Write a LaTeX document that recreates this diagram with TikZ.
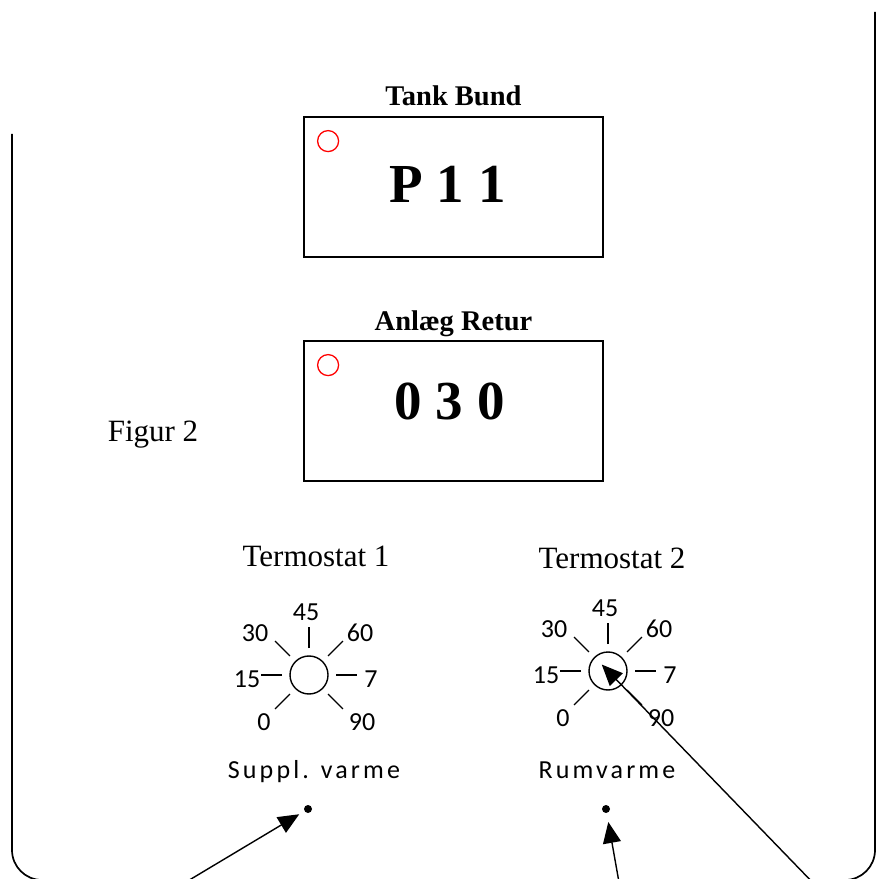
\documentclass[tikz,border=0pt]{standalone}
\usepackage{fontspec}
\setmainfont{Liberation Serif}
\newfontfamily\dialfont{Carlito}
\newfontfamily\spacedfont[LetterSpace=12]{Carlito}
\usetikzlibrary{positioning,arrows.meta}

\begin{document}
\begin{tikzpicture}[x=1pt,y=1pt,
  display/.style={draw,line width=1.8pt,minimum width=299pt,minimum height=140pt,inner sep=0pt},
  reading/.style={inner sep=0pt,font=\fontsize{55}{60}\selectfont\bfseries},
  heading/.style={inner sep=0pt,anchor=base,font=\fontsize{28.5}{32}\selectfont\bfseries},
  led/.style={draw=red,line width=1.3pt,circle,minimum size=21pt,inner sep=0pt},
  knob/.style={draw,circle,line width=1.4pt,minimum size=38pt,inner sep=0pt},
  dialnum/.style={inner sep=0pt,font=\dialfont\fontsize{26}{30}\selectfont},
  plain/.style={inner sep=0pt,font=\fontsize{31}{36}\selectfont},
  sub/.style={inner sep=0pt,font=\spacedfont\fontsize{26}{30}\selectfont},
  dot/.style={circle,fill,inner sep=0pt,minimum size=8pt},
  pointer/.style={line width=1.4pt,-{Triangle[length=21pt,width=18pt]}}]
  \useasboundingbox (0,0) rectangle (882,878);
  \clip (0,0) rectangle (882,878);
  \draw[line width=1.7pt,rounded corners=30pt] (12,744) -- (12,-2) -- (875,-2) -- (875,866);

  \node[display] (tank) at (453.5,691) {};
  \node[reading] at ([shift={(-6,3)}]tank.center) {P 1 1};
  \node[heading] at ([yshift=11pt]tank.north) {Tank Bund};
  \node[led] at ([shift={(25,-25)}]tank.north west) {};

  \node[display] (anlaeg) at (453.5,467) {};
  \node[reading] at ([shift={(-4,10)}]anlaeg.center) {0 3 0};
  \node[heading] at ([yshift=10pt]anlaeg.north) {Anlæg Retur};
  \node[led] at ([shift={(25,-25)}]anlaeg.north west) {};

  \node[plain] at (153,443) {Figur 2};
  \node[plain] at (316,322) {Termostat 1};
  \node[plain] at (612,320) {Termostat 2};

  \node[knob] (dialA) at (309,203) {};
  \node[knob] (dialB) at (608,207) {};
  \foreach \d in {dialA,dialB} {
    \foreach \a in {0,45,90,135,180,225,315}
      \draw[line width=1.2pt] (\d.center) ++(\a:27) -- ++(\a:21);
    \foreach \n/\dx/\dy in {45/-3/63,30/-54/42,60/51/42,15/-62/-4,7/62/-4,0/-45/-47,90/53/-47}
      \node[dialnum] at ([shift={(\dx,\dy)}]\d.center) {\n};
  }

  \node[sub] at (314,106) {Suppl. varme};
  \node[sub] at (607,108) {Rumvarme};
  \node[dot] (dotA) at (308,69) {};
  \node[dot] (dotB) at (606,69) {};

  \coordinate (fromA) at (176,-10);
  \coordinate (fromB) at (620,-10);
  \coordinate (fromC) at (818,-10);
  \draw[pointer,shorten >=6pt] (fromA) -- (dotA);
  \draw[pointer,shorten >=9pt] (fromB) -- (dotB);
  \draw[pointer,shorten >=-9pt] (fromC) -- (dialB.center);
\end{tikzpicture}
\end{document}
